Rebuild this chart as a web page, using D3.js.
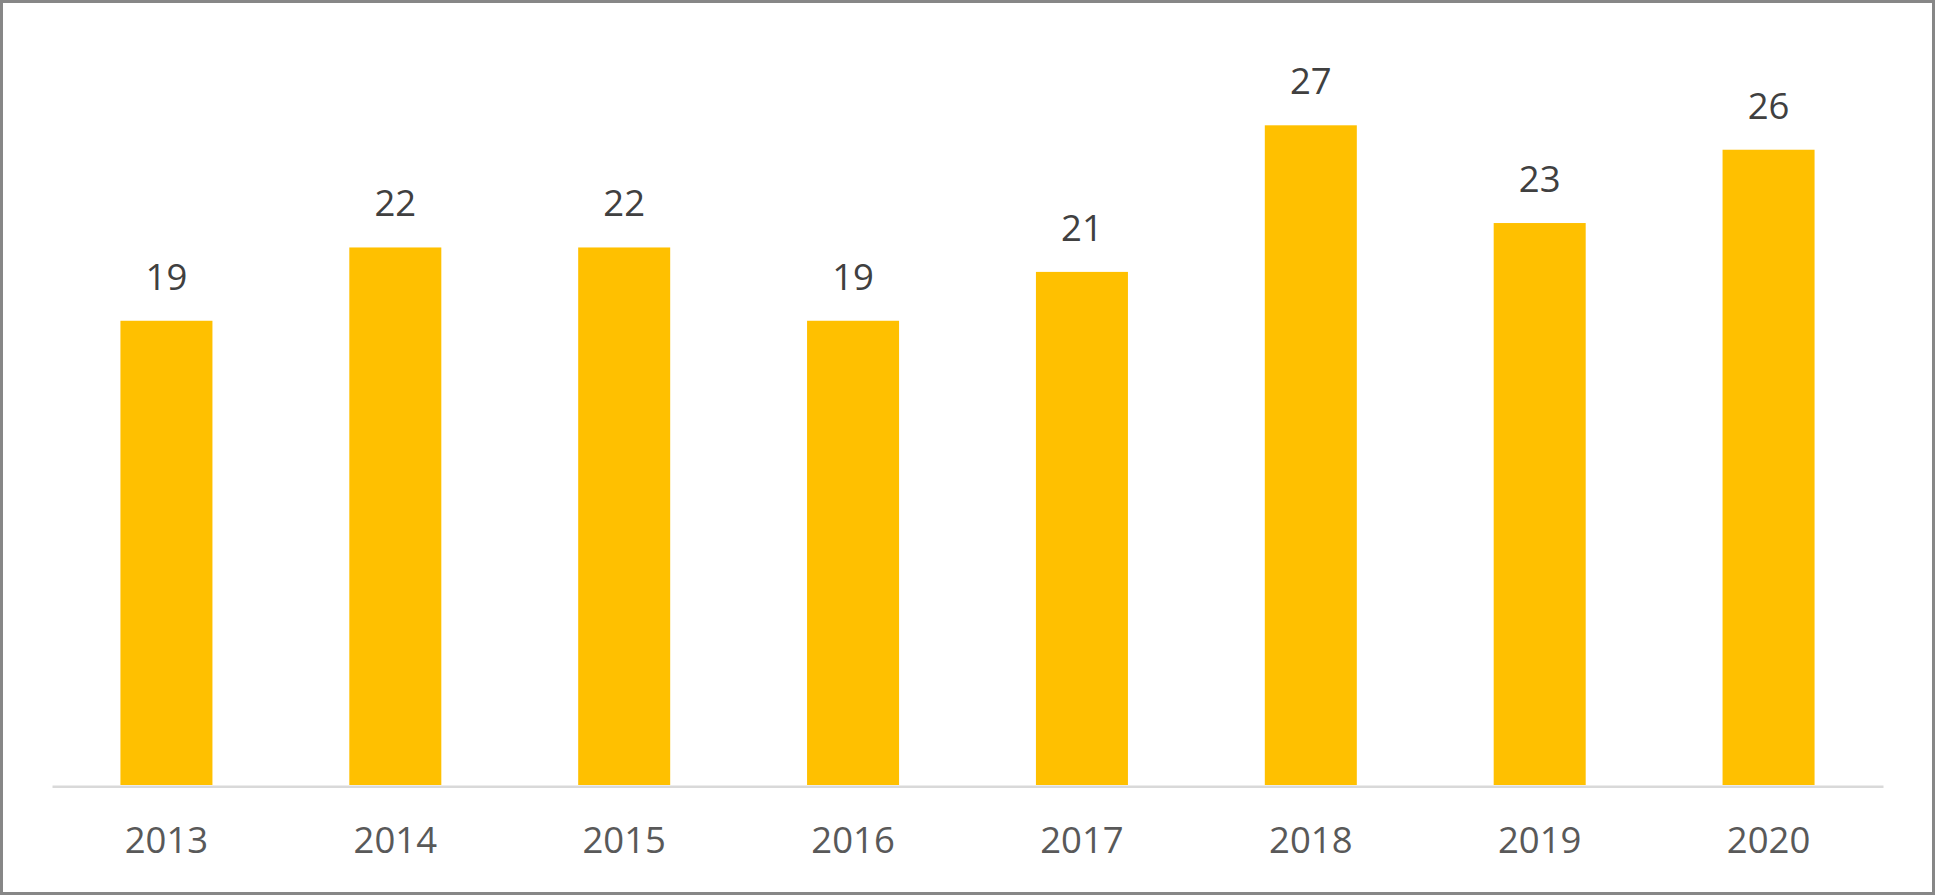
<!DOCTYPE html>
<html><head><meta charset="utf-8">
<script src="https://cdn.jsdelivr.net/npm/d3@7"></script>
<style>html,body{margin:0;padding:0;background:#fff;}svg{display:block;}</style>
</head><body>
<script>
const categories = ["2013","2014","2015","2016","2017","2018","2019","2020"];
const values = [19,22,22,19,21,27,23,26];
const yDomain = [0,30];

const W = 1935, H = 895;
const svg = d3.select("body").append("svg").attr("width",W).attr("height",H);
svg.append("rect").attr("x",1.5).attr("y",1.5).attr("width",W-3).attr("height",H-3)
  .attr("fill","#fff").attr("stroke","#878787").attr("stroke-width",3);

const x = d3.scaleBand().domain(categories).range([52,1883]).paddingInner(0.598).paddingOuter(0.299);
const y = d3.scaleLinear().domain(yDomain).range([785,52]);

svg.append("g").selectAll("rect").data(values).join("rect")
  .attr("x",(d,i)=>x(categories[i])).attr("width",x.bandwidth())
  .attr("y",d=>y(d)).attr("height",d=>y(0)-y(d)).attr("fill","#FFC000");

const axis = svg.append("g").attr("transform","translate(0,786.3)")
  .call(d3.axisBottom(x).tickSize(0).tickPadding(40).tickSizeOuter(0));
axis.select(".domain").attr("stroke","#d9d9d9").attr("stroke-width",2.6);
axis.selectAll("text").attr("font-family","'Open Sans'").attr("font-size",36.5).attr("fill","#595959")
  .attr("dy",null).attr("y",66.7);

svg.append("g").selectAll("text").data(values).join("text")
  .attr("x",(d,i)=>x(categories[i])+x.bandwidth()/2).attr("y",d=>y(d)-31)
  .attr("text-anchor","middle").attr("font-family","'Open Sans'").attr("font-size",36.5)
  .attr("fill","#404040").text(d=>d);
</script>
</body></html>
